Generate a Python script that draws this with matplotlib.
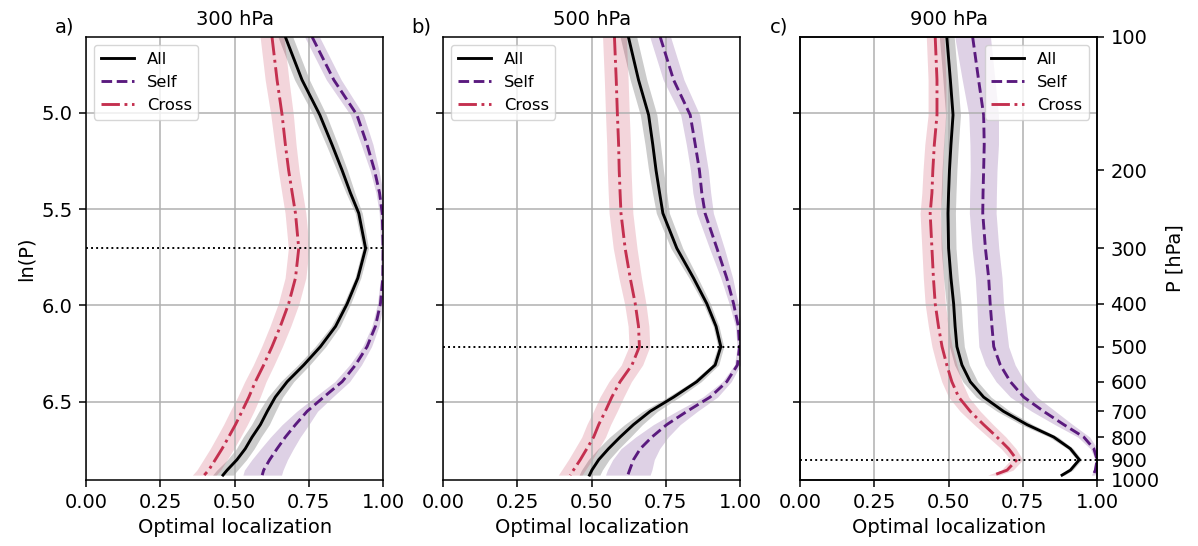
import numpy as np
import matplotlib
matplotlib.use("Agg")
import matplotlib.pyplot as plt

# pressure levels (hPa)
levels = [100, 125, 150, 175, 200, 225, 250, 300, 350, 400, 450, 500,
          550, 600, 650, 700, 750, 800, 850, 900, 950, 975]

panel_titles = ["300 hPa", "500 hPa", "900 hPa"]
panel_letters = ["a)", "b)", "c)"]
ref_levels = [300, 500, 900]

# panel a (300 hPa)
all_a = [0.671, 0.727, 0.787, 0.828, 0.862, 0.890, 0.918, 0.941, 0.915, 0.879, 0.840, 0.789,
         0.733, 0.677, 0.637, 0.610, 0.587, 0.559, 0.536, 0.508, 0.475, 0.461]
self_a = [0.761, 0.834, 0.912, 0.946, 0.971, 0.988, 0.997, 1.000, 0.999, 0.991, 0.974, 0.946,
          0.907, 0.862, 0.800, 0.744, 0.705, 0.671, 0.643, 0.618, 0.598, 0.593]
cross_a = [0.626, 0.643, 0.660, 0.671, 0.682, 0.694, 0.705, 0.716, 0.705, 0.682, 0.654, 0.626,
           0.598, 0.570, 0.548, 0.525, 0.503, 0.480, 0.458, 0.435, 0.413, 0.398]
all_a_sd = [0.025, 0.025, 0.022, 0.02, 0.018, 0.015, 0.012, 0.01, 0.01, 0.012, 0.015, 0.018,
            0.02, 0.022, 0.025, 0.028, 0.03, 0.03, 0.03, 0.032, 0.035, 0.035]
self_a_sd = [0.025, 0.025, 0.022, 0.02, 0.015, 0.012, 0.01, 0.008, 0.008, 0.01, 0.012, 0.015,
             0.02, 0.025, 0.03, 0.035, 0.045, 0.05, 0.055, 0.06, 0.065, 0.065]
cross_a_sd = [0.04, 0.04, 0.038, 0.036, 0.035, 0.035, 0.035, 0.035, 0.035, 0.035, 0.035, 0.035,
              0.035, 0.036, 0.038, 0.04, 0.04, 0.04, 0.04, 0.04, 0.04, 0.04]

# panel b (500 hPa)
all_b = [0.624, 0.658, 0.692, 0.706, 0.717, 0.729, 0.740, 0.787, 0.843, 0.888, 0.919, 0.935,
         0.916, 0.854, 0.776, 0.697, 0.641, 0.596, 0.557, 0.524, 0.501, 0.493]
self_b = [0.731, 0.776, 0.832, 0.849, 0.863, 0.871, 0.882, 0.922, 0.955, 0.978, 0.994, 0.998,
          0.991, 0.955, 0.899, 0.821, 0.753, 0.703, 0.664, 0.641, 0.628, 0.622]
cross_b = [0.577, 0.583, 0.587, 0.591, 0.593, 0.596, 0.599, 0.613, 0.630, 0.647, 0.658, 0.661,
           0.636, 0.596, 0.568, 0.546, 0.524, 0.507, 0.484, 0.462, 0.439, 0.428]
all_b_sd = [0.028, 0.028, 0.028, 0.026, 0.025, 0.024, 0.022, 0.02, 0.015, 0.012, 0.01, 0.01,
            0.012, 0.015, 0.02, 0.025, 0.03, 0.035, 0.035, 0.035, 0.035, 0.035]
self_b_sd = [0.035, 0.035, 0.032, 0.03, 0.03, 0.03, 0.028, 0.025, 0.02, 0.015, 0.01, 0.008,
             0.01, 0.015, 0.025, 0.035, 0.045, 0.055, 0.065, 0.07, 0.075, 0.075]
cross_b_sd = [0.04, 0.04, 0.04, 0.04, 0.04, 0.04, 0.04, 0.04, 0.038, 0.036, 0.035, 0.035,
              0.036, 0.038, 0.04, 0.04, 0.04, 0.04, 0.04, 0.04, 0.04, 0.04]

# panel c (900 hPa)
all_c = [0.494, 0.506, 0.515, 0.508, 0.503, 0.500, 0.498, 0.500, 0.508, 0.517, 0.522, 0.528,
         0.545, 0.573, 0.618, 0.685, 0.764, 0.854, 0.910, 0.940, 0.910, 0.882]
self_c = [0.581, 0.601, 0.618, 0.620, 0.618, 0.616, 0.615, 0.624, 0.635, 0.640, 0.646, 0.652,
          0.674, 0.708, 0.753, 0.820, 0.888, 0.955, 0.989, 1.000, 0.994, 0.987]
cross_c = [0.455, 0.461, 0.461, 0.452, 0.447, 0.444, 0.438, 0.444, 0.449, 0.455, 0.466, 0.478,
           0.494, 0.511, 0.534, 0.573, 0.618, 0.663, 0.702, 0.730, 0.697, 0.652]
all_c_sd = [0.025, 0.025, 0.025, 0.025, 0.025, 0.025, 0.025, 0.025, 0.025, 0.025, 0.025, 0.025,
            0.025, 0.025, 0.025, 0.022, 0.02, 0.015, 0.01, 0.008, 0.008, 0.008]
self_c_sd = [0.06, 0.055, 0.05, 0.048, 0.045, 0.045, 0.045, 0.045, 0.045, 0.045, 0.048, 0.05,
             0.05, 0.048, 0.045, 0.04, 0.03, 0.02, 0.012, 0.006, 0.006, 0.006]
cross_c_sd = [0.03, 0.03, 0.03, 0.032, 0.033, 0.034, 0.034, 0.034, 0.034, 0.034, 0.034, 0.034,
              0.034, 0.034, 0.034, 0.034, 0.032, 0.03, 0.025, 0.02, 0.02, 0.02]

right_ticks = [100, 200, 300, 400, 500, 600, 700, 800, 900, 1000]
xticks = [0.0, 0.25, 0.5, 0.75, 1.0]
yticks = [5.0, 5.5, 6.0, 6.5]

c_all = "black"
c_self = "#5a1a7e"
c_cross = "#c4304f"

S = 1.38
FS = 14
plt.rcParams['font.family'] = ['DejaVu Sans']
plt.rcParams['font.size'] = FS
plt.rcParams['axes.linewidth'] = 0.8 * S
plt.rcParams['xtick.major.width'] = 0.8 * S
plt.rcParams['ytick.major.width'] = 0.8 * S
plt.rcParams['xtick.major.size'] = 3.5 * S
plt.rcParams['ytick.major.size'] = 3.5 * S
plt.rcParams['xtick.major.pad'] = 3.5 * S
plt.rcParams['ytick.major.pad'] = 3.5 * S

fig = plt.figure(figsize=(11.98, 5.46), dpi=100)
lefts = [0.0718, 0.3698, 0.6678]
panels = [
    (all_a, self_a, cross_a, all_a_sd, self_a_sd, cross_a_sd),
    (all_b, self_b, cross_b, all_b_sd, self_b_sd, cross_b_sd),
    (all_c, self_c, cross_c, all_c_sd, self_c_sd, cross_c_sd),
]
lnp = np.log(np.array(levels, dtype=float))

for i, (l, data) in enumerate(zip(lefts, panels)):
    ax = fig.add_axes([l, 0.1209, 0.248, 0.8114])
    a, s, c, asd, ssd, csd = [np.array(d) for d in data]
    ax.fill_betweenx(lnp, a - asd, a + asd, color=c_all, alpha=0.2, lw=0)
    ax.fill_betweenx(lnp, s - ssd, s + ssd, color=c_self, alpha=0.2, lw=0)
    ax.fill_betweenx(lnp, c - csd, c + csd, color=c_cross, alpha=0.2, lw=0)
    ax.plot(a, lnp, color=c_all, lw=1.5 * S, ls='-', label='All')
    ax.plot(s, lnp, color=c_self, lw=1.5 * S, ls='--', label='Self')
    ax.plot(c, lnp, color=c_cross, lw=1.5 * S, ls='-.', label='Cross')
    ax.axhline(np.log(ref_levels[i]), color='black', ls=':', lw=1.0 * S)
    ax.set_xlim(0, 1)
    ax.set_ylim(np.log(1000), np.log(100))
    ax.set_xticks(xticks)
    ax.set_yticks(yticks)
    ax.grid(True, color='#b0b0b0', lw=0.8 * S)
    ax.set_xlabel('Optimal localization')
    ax.set_title(panel_titles[i], fontsize=FS, pad=6 * S)
    ax.text(-0.04, 1.0, panel_letters[i], transform=ax.transAxes, ha='right', va='bottom',
            fontsize=FS)
    if i == 0:
        ax.set_ylabel('ln(P)')
    else:
        ax.set_yticklabels([])
    ax.legend(loc='upper right' if i == 2 else 'upper left', fontsize=11.8)
    if i == 2:
        ax2 = ax.twinx()
        ax2.set_ylim(np.log(1000), np.log(100))
        ax2.set_yticks(np.log(np.array(right_ticks, dtype=float)))
        ax2.set_yticklabels([str(t) for t in right_ticks])
        ax2.set_ylabel('P [hPa]')

fig.savefig('out.png', dpi=100)
